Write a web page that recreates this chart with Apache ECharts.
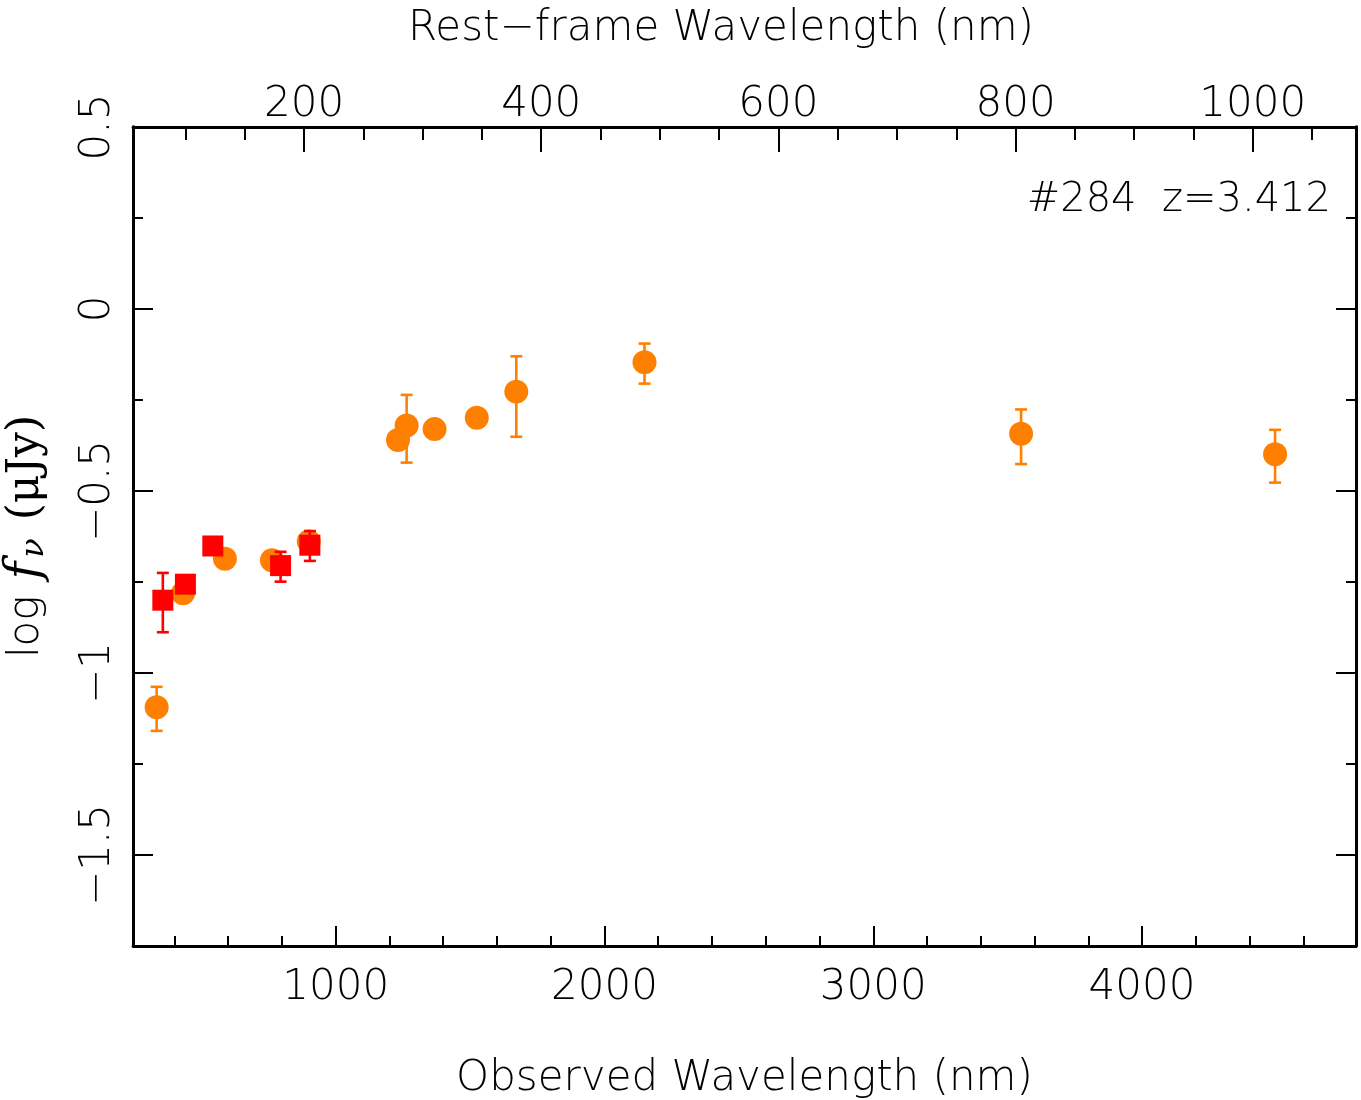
<!DOCTYPE html>
<html>
<head>
<meta charset="utf-8">
<script src="https://cdn.jsdelivr.net/npm/echarts@6/dist/echarts.min.js"></script>
<style>
  html, body { margin: 0; padding: 0; background: #fff; }
  #sed { width: 1361px; height: 1100px; }
</style>
</head>
<body>
<div id="sed"></div>
<script>
// object #284, redshift used for the rest-frame axis
var redshift = 3.412;

// orange circles: observed wavelength (nm), log flux and error bar ends
var orangeWave = [334, 432, 588, 763, 900, 1232, 1264, 1368, 1525, 1672, 2149, 3550, 4495];
var orangeFlux = [-1.094, -0.781, -0.686, -0.690, -0.639, -0.360, -0.320, -0.330, -0.299, -0.227, -0.146, -0.343, -0.399];
var orangeLow  = [-1.159, -0.80, -0.70, -0.71, -0.66, -0.38, -0.422, -0.35, -0.32, -0.351, -0.205, -0.426, -0.477];
var orangeHigh = [-1.038, -0.76, -0.67, -0.67, -0.62, -0.34, -0.236, -0.31, -0.28, -0.130, -0.095, -0.276, -0.332];

// red squares
var redWave = [357, 441, 543, 795, 904];
var redFlux = [-0.800, -0.756, -0.651, -0.705, -0.649];
var redLow  = [-0.888, -0.775, -0.670, -0.749, -0.692];
var redHigh = [-0.725, -0.737, -0.632, -0.667, -0.610];

// ticks
var obsMajor = [1000, 2000, 3000, 4000];
var obsMinor = [400, 600, 800, 1200, 1400, 1600, 1800, 2200, 2400, 2600, 2800,
                3200, 3400, 3600, 3800, 4200, 4400, 4600];
var restMajor = [200, 400, 600, 800, 1000];
var restMinor = [100, 150, 250, 300, 350, 450, 500, 550, 650, 700, 750, 850, 900, 950, 1050];
var fluxMajor = [-1.5, -1, -0.5, 0, 0.5];
var fluxMinor = [-1.25, -0.75, -0.25, 0.25];

var obsMin = 246, obsMax = 4796;
var fluxMin = -1.75, fluxMax = 0.5;

var FONT = 'DejaVu Sans';
var FS = 42;
var INK = '#000';

function zip() {
  var cols = arguments, out = [];
  for (var i = 0; i < cols[0].length; i++) {
    var row = [];
    for (var j = 0; j < cols.length; j++) row.push(cols[j][i]);
    out.push(row);
  }
  return out;
}

function errorBars(color) {
  return function (params, api) {
    var top = api.coord([api.value(0), api.value(2)]);
    var bot = api.coord([api.value(0), api.value(1)]);
    var w = 6;
    var st = { stroke: color, lineWidth: 2.6 };
    return {
      type: 'group',
      children: [
        { type: 'line', shape: { x1: top[0], y1: top[1], x2: bot[0], y2: bot[1] }, style: st },
        { type: 'line', shape: { x1: top[0] - w, y1: top[1], x2: top[0] + w, y2: top[1] }, style: st },
        { type: 'line', shape: { x1: bot[0] - w, y1: bot[1], x2: bot[0] + w, y2: bot[1] }, style: st }
      ]
    };
  };
}

function plain(v) { return String(v).replace('-', '\u2212'); }

var labelStyle = { color: INK, fontFamily: FONT, fontWeight: 200, fontSize: FS, formatter: plain };
var lineStyle = { color: INK, width: 2.8 };

function xAxisCfg(pos, min, max, ticks, len, labels, margin, extra) {
  var a = {
    type: 'value', position: pos, min: min, max: max,
    axisLine: { show: labels, onZero: false, lineStyle: lineStyle },
    axisTick: { show: true, inside: true, length: len, customValues: ticks, lineStyle: { color: INK, width: 2 } },
    axisLabel: labels ? Object.assign({ customValues: ticks, margin: margin }, labelStyle) : { show: false },
    splitLine: { show: false }
  };
  return Object.assign(a, extra || {});
}

function yAxisCfg(pos, ticks, len, labels) {
  return {
    type: 'value', position: pos, min: fluxMin, max: fluxMax,
    axisLine: { show: true, onZero: false, lineStyle: lineStyle },
    axisTick: { show: true, inside: true, length: len, customValues: ticks, lineStyle: { color: INK, width: 2 } },
    axisLabel: labels ? Object.assign({ customValues: ticks, rotate: 90, margin: 14 }, labelStyle) : { show: false },
    splitLine: { show: false }
  };
}

var option = {
  backgroundColor: '#fff',
  animation: false,
  title: [{
    text: 'Rest\u2212frame Wavelength (nm)',
    left: 716, top: 3, textAlign: 'center',
    textStyle: { color: INK, fontFamily: FONT, fontWeight: 200, fontSize: FS }
  }, {
    text: '#284  z=3.412',
    right: 25, top: 176,
    textStyle: { color: INK, fontFamily: FONT, fontWeight: 200, fontSize: 40 }
  }],
  grid: { left: 133, top: 127, width: 1223, height: 819, containLabel: false, outerBoundsMode: 'none' },
  xAxis: [
    xAxisCfg('bottom', obsMin, obsMax, obsMajor, 20, true, 21, {
      name: 'Observed Wavelength (nm)', nameLocation: 'middle', nameGap: 112,
      nameTextStyle: { color: INK, fontFamily: FONT, fontWeight: 200, fontSize: FS }
    }),
    xAxisCfg('bottom', obsMin, obsMax, obsMinor, 10, false, 0),
    xAxisCfg('top', obsMin / (1 + redshift), obsMax / (1 + redshift), restMajor, 25, true, 1),
    xAxisCfg('top', obsMin / (1 + redshift), obsMax / (1 + redshift), restMinor, 13, false, 0)
  ],
  yAxis: [
    Object.assign(yAxisCfg('left', fluxMajor, 20, true), {
      name: '{n|log}{f|f}{s|\u03bd}{u|(\u03bcJy)}',
      nameLocation: 'middle', nameGap: 82, nameRotate: 90,
      nameTextStyle: {
        rich: {
          n: { color: INK, fontFamily: FONT, fontWeight: 200, fontSize: FS },
          f: { color: INK, fontFamily: 'DejaVu Serif', fontStyle: 'italic', fontSize: 48, padding: [0, 2, 0, 16] },
          s: { color: INK, fontFamily: 'DejaVu Serif', fontStyle: 'italic', fontSize: 32, verticalAlign: 'bottom', padding: [14, 0, 0, 2] },
          u: { color: INK, fontFamily: 'DejaVu Serif', fontSize: 44, padding: [0, 0, 0, 18] }
        }
      }
    }),
    yAxisCfg('left', fluxMinor, 10, false),
    yAxisCfg('right', fluxMajor, 20, false),
    yAxisCfg('right', fluxMinor, 10, false)
  ],
  series: [
    {
      type: 'custom', xAxisIndex: 0, yAxisIndex: 0, z: 2,
      renderItem: errorBars('#ff8000'),
      encode: { x: 0, y: [1, 2] },
      data: zip(orangeWave, orangeLow, orangeHigh)
    },
    {
      type: 'scatter', xAxisIndex: 0, yAxisIndex: 0, z: 3,
      symbol: 'circle', symbolSize: 24,
      itemStyle: { color: '#ff8000', opacity: 1 },
      data: zip(orangeWave, orangeFlux)
    },
    {
      type: 'custom', xAxisIndex: 0, yAxisIndex: 0, z: 4,
      renderItem: errorBars('#ff0000'),
      encode: { x: 0, y: [1, 2] },
      data: zip(redWave, redLow, redHigh)
    },
    {
      type: 'scatter', xAxisIndex: 0, yAxisIndex: 0, z: 5,
      symbol: 'rect', symbolSize: 21,
      itemStyle: { color: '#ff0000', opacity: 1 },
      data: zip(redWave, redFlux)
    }
  ]
};

var chart = echarts.init(document.getElementById('sed'));
chart.setOption(option);
</script>
</body>
</html>
